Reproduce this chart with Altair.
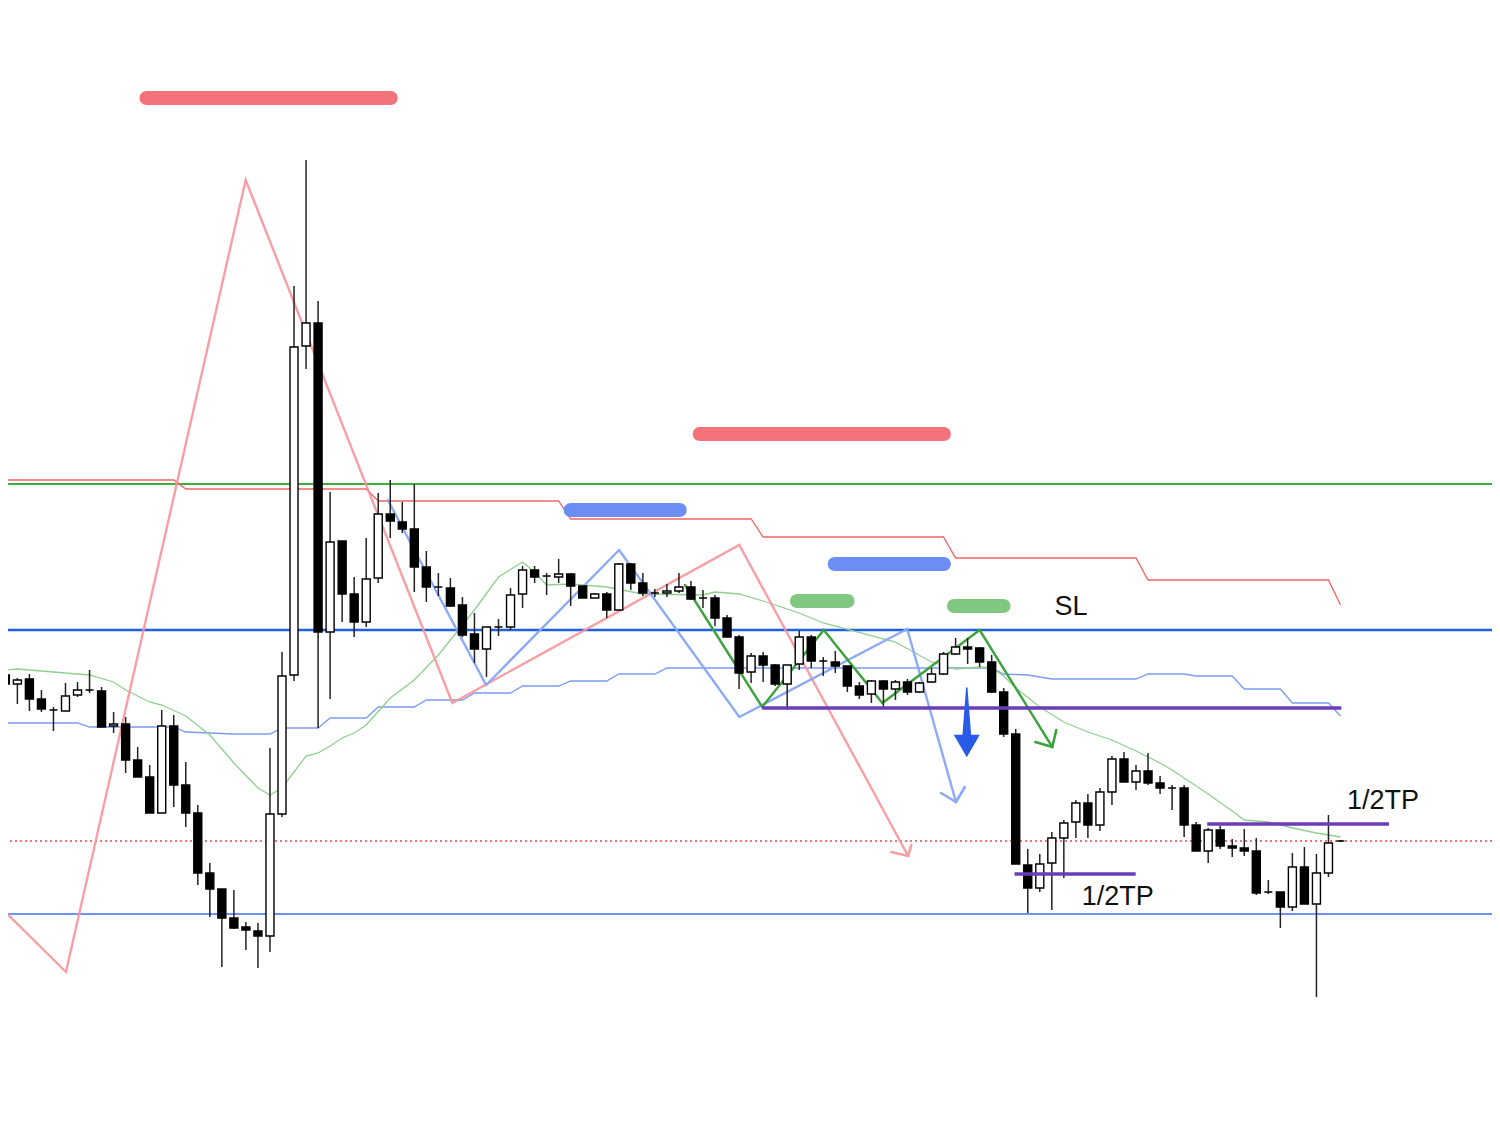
import altair as alt
import pandas as pd

# ---------------- candle data (chart level units; larger = lower price) ----
opens = [675, 684, 679, 699, 710, 711, 695, 690, 691, 726, 724, 760, 777, 813, 726, 785, 813, 873, 889, 918,
         927, 931, 936, 814, 675, 346, 323, 632, 541, 594, 622, 578, 514, 522, 529, 567, 587, 588, 605, 634,
         649, 627, 627, 594, 570, 576, 577, 574, 586, 598, 594, 610, 564, 583, 593, 593, 591, 587, 598, 598,
         618, 637, 672, 656, 665, 684, 664, 637, 661, 662, 666, 686, 694, 681, 689, 682, 692, 682, 674, 654,
         647, 648, 662, 692, 734, 865, 888, 863, 838, 822, 803, 825, 792, 759, 782, 771, 783, 788, 788, 825,
         851, 830, 846, 848, 851, 892, 892, 907, 867, 904, 873, 841]
highs = [672, 678, 674, 690, 707, 683, 682, 670, 687, 712, 717, 747, 765, 710, 715, 762, 805, 863, 889, 890,
         922, 923, 748, 652, 286, 160, 301, 492, 541, 577, 538, 493, 480, 502, 484, 551, 573, 578, 597, 613,
         627, 619, 588, 566, 566, 573, 559, 573, 586, 593, 592, 563, 563, 573, 589, 584, 573, 581, 590, 595,
         615, 635, 653, 652, 664, 665, 631, 635, 657, 651, 666, 682, 680, 680, 680, 679, 682, 668, 652, 638,
         638, 647, 655, 688, 729, 849, 854, 832, 820, 800, 794, 788, 756, 752, 765, 753, 776, 785, 785, 822,
         828, 826, 839, 829, 838, 880, 892, 853, 847, 854, 815, 840]
lows = [686, 704, 711, 712, 731, 711, 697, 693, 727, 733, 773, 777, 813, 813, 807, 827, 885, 917, 967, 929,
        950, 968, 952, 817, 681, 369, 728, 699, 622, 637, 627, 583, 538, 533, 592, 602, 596, 607, 637, 663,
        677, 636, 630, 608, 583, 595, 583, 606, 598, 598, 618, 610, 590, 596, 597, 597, 593, 600, 608, 626,
        637, 689, 683, 682, 686, 710, 670, 668, 676, 673, 692, 699, 703, 707, 700, 695, 693, 683, 675, 655,
        664, 667, 693, 737, 864, 913, 892, 910, 878, 838, 838, 831, 805, 782, 790, 785, 794, 810, 837, 851,
        863, 849, 857, 856, 895, 894, 928, 911, 904, 997, 877, 842]
closes = [684, 680, 699, 709, 710, 696, 690, 690, 727, 724, 760, 777, 813, 726, 785, 813, 873, 889, 918, 928,
          930, 936, 814, 676, 347, 323, 632, 542, 594, 622, 579, 514, 521, 529, 567, 587, 587, 606, 635, 649,
          627, 627, 595, 570, 577, 576, 574, 586, 598, 594, 610, 564, 583, 593, 593, 591, 587, 599, 598, 618,
          637, 673, 656, 665, 684, 665, 637, 661, 661, 666, 686, 695, 681, 689, 682, 692, 683, 674, 654, 647,
          649, 662, 692, 734, 864, 888, 864, 838, 823, 803, 825, 792, 759, 782, 771, 783, 788, 788, 825, 851,
          830, 846, 848, 851, 893, 892, 907, 867, 904, 873, 843, 841]

# ---------------- indicator lines (bar index, level) ----------------
ma_idx = [0, 1, 3, 7, 9, 10, 12, 13, 15, 17, 19, 21, 22, 23, 24, 25, 26, 27, 28, 29, 30, 32, 34, 36, 38, 39,
          41, 43, 44, 45, 47, 50, 53, 58, 59, 61, 63, 66, 68, 74, 77, 79, 81, 82, 83, 84, 86, 88, 90, 92, 94,
          96, 97, 98, 100, 102, 103, 105, 107, 109, 111]
ma_val = [670, 669, 671, 675, 682, 690, 702, 705, 716, 735, 763, 788, 795, 788, 772, 756, 753, 746, 738, 733,
          725, 698, 680, 655, 625, 610, 577, 562, 572, 585, 584, 587, 594, 595, 592, 594, 601, 613, 623, 642,
          662, 669, 667, 668, 676, 688, 707, 722, 732, 740, 751, 763, 770, 778, 794, 811, 820, 822, 828, 833, 837]

lower_idx = [0, 6, 7, 14, 15, 19, 22, 23, 26, 27, 30, 31, 34, 35, 38, 39, 42, 43, 46, 47, 50, 51, 54, 55, 82,
             83, 85, 87, 94, 95, 98, 99, 102, 103, 106, 107, 110, 111]
lower_val = [723, 723, 727, 727, 732, 734, 734, 728, 728, 718, 718, 707, 707, 700, 700, 693, 693, 686, 686,
             681, 681, 674, 674, 668, 668, 674, 675, 679, 679, 674, 674, 676, 676, 689, 689, 703, 703, 716]

upper_idx = [0, 14, 15, 30, 31, 46, 47, 62, 63, 78, 79, 94, 95, 110, 111]
upper_val = [480, 480, 489, 489, 501, 501, 519, 519, 537, 537, 558, 558, 580, 580, 605]

# ---------------- drawings ----------------
red_zz_idx = [0.0, 5.04, 19.98, 37.16, 61.02, 75.06]
red_zz_val = [912, 972, 180, 703, 545, 856]
blue_zz_idx = [31.8, 39.97, 51.03, 61.02, 74.98, 79.03]
blue_zz_val = [500, 685, 550, 717, 629, 802]
green_zz_idx = [56.5, 62.92, 68.04, 72.91, 81.0, 87.04]
green_zz_val = [585, 707, 630, 703, 630, 747]

# arrow-head arms: (x1, y1, x2, y2, colour)
arrow_arms = [
    (73.66, 852, 75.06, 856, "#f7a0a4"), (75.31, 845, 75.06, 856, "#f7a0a4"),
    (77.79, 793, 79.03, 802, "#8aa9f6"), (79.77, 787, 79.03, 802, "#8aa9f6"),
    (85.63, 742, 87.04, 747, "#3da23d"), (87.37, 730, 87.04, 747, "#3da23d"),
]

# full-width horizontal levels: (level, colour, width, dash)
h_levels = [
    (484, "#3fae3f", 2.2, None),
    (630, "#1f5fe3", 2.6, None),
    (914, "#6f93f3", 2.0, None),
    (841, "#e8474c", 1.3, [2, 3]),
]

# purple take-profit segments: (x1, x2, level)
tp_segments = [(62.92, 111.07, 708), (83.9, 93.97, 874), (99.92, 115.03, 824)]

# rounded zone markers: (x1, x2, level, colour)
zones = [
    (11.73, 32.04, 98, "#f4727a"),
    (57.72, 78.03, 434, "#f4727a"),
    (46.99, 56.07, 510, "#6b8ef5"),
    (68.95, 78.03, 564, "#6b8ef5"),
    (65.81, 70.02, 601, "#80c880"),
    (78.86, 82.99, 606, "#80c880"),
]

labels = [("SL", 88.6, 607), ("1/2TP", 92.49, 897), ("1/2TP", 114.53, 801)]

big_arrow_idx = 79.93
big_arrow_top, big_arrow_shaft_end, big_arrow_head = 688, 737, 746

# ---------------- build ----------------
W, H = 1484, 1116
xs = alt.Scale(domain=[0.636, 123.18], nice=False, zero=False)
ys = alt.Scale(domain=[8, 1124], nice=False, zero=False, reverse=True)


def X(f="x"):
    return alt.X(f, type="quantitative", scale=xs, axis=None)


def Y(f="y"):
    return alt.Y(f, type="quantitative", scale=ys, axis=None)


candles = pd.DataFrame({"i": list(range(len(opens))), "o": opens, "h": highs, "l": lows, "c": closes})
candles["top"] = candles[["o", "c"]].min(axis=1)
candles["bot"] = candles[["o", "c"]].max(axis=1)
candles["dir"] = ["up" if c < o else "down" for o, c in zip(opens, closes)]

layers = []

# horizontal levels
for lvl, col, w, dash in h_levels:
    kw = dict(color=col, strokeWidth=w, clip=True)
    if dash:
        kw["strokeDash"] = dash
    layers.append(alt.Chart(pd.DataFrame({"y": [lvl]})).mark_rule(**kw).encode(y=Y()))

# indicator lines
for xi, yv, col in [(upper_idx, upper_val, "#f26464"), (lower_idx, lower_val, "#7b9cf0"),
                    (ma_idx, ma_val, "#8fd08f")]:
    df = pd.DataFrame({"x": xi, "y": yv, "k": range(len(xi))})
    layers.append(alt.Chart(df).mark_line(color=col, strokeWidth=1.3, clip=True)
                  .encode(x=X(), y=Y(), order="k:Q"))

# zigzags
for xi, yv, col, op in [(red_zz_idx, red_zz_val, "#f7959b", 0.9), (blue_zz_idx, blue_zz_val, "#86a6f7", 0.95),
                        (green_zz_idx, green_zz_val, "#3da23d", 1.0)]:
    df = pd.DataFrame({"x": xi, "y": yv, "k": range(len(xi))})
    layers.append(alt.Chart(df).mark_line(color=col, strokeWidth=2.4, opacity=op, clip=True,
                                          strokeCap="round", strokeJoin="miter")
                  .encode(x=X(), y=Y(), order="k:Q"))

arms = pd.DataFrame(arrow_arms, columns=["x", "y", "x2", "y2", "col"])
layers.append(alt.Chart(arms).mark_rule(strokeWidth=2.6, strokeCap="round", clip=True).encode(
    x=X(), y=Y(), x2="x2:Q", y2="y2:Q", color=alt.Color("col:N", scale=None)))

# candles
layers.append(alt.Chart(candles).mark_rule(color="#222222", strokeWidth=1.5, clip=True).encode(
    x=X("i"), y=Y("h"), y2="l:Q"))
layers.append(alt.Chart(candles).mark_bar(size=8, stroke="#000000", strokeWidth=1.4, clip=True).encode(
    x=X("i"), y=Y("top"), y2="bot:Q",
    fill=alt.Fill("dir:N", scale=alt.Scale(domain=["up", "down"], range=["#ffffff", "#000000"]), legend=None)))

# purple take-profit lines
tp = pd.DataFrame(tp_segments, columns=["x", "x2", "y"])
layers.append(alt.Chart(tp).mark_rule(color="#6a3db8", strokeWidth=3.6, clip=True).encode(
    x=X(), x2="x2:Q", y=Y()))

# zone markers
zn = pd.DataFrame(zones, columns=["x", "x2", "y", "col"])
layers.append(alt.Chart(zn).mark_rule(strokeWidth=14, strokeCap="round", clip=True).encode(
    x=X(), x2="x2:Q", y=Y(), color=alt.Color("col:N", scale=None)))

# big down arrow
shaft = pd.DataFrame({"x": [big_arrow_idx, big_arrow_idx], "y": [big_arrow_top, big_arrow_shaft_end],
                      "s": [1.5, 9.0]})
layers.append(alt.Chart(shaft).mark_trail(color="#2a5be6").encode(
    x=X(), y=Y(), size=alt.Size("s:Q", scale=None, legend=None)))
head = pd.DataFrame({"x": [big_arrow_idx], "y": [big_arrow_head]})
layers.append(alt.Chart(head).mark_point(shape="triangle-down", size=680, filled=True, color="#2a5be6",
                                         opacity=1).encode(x=X(), y=Y()))

# labels
lb = pd.DataFrame(labels, columns=["t", "x", "y"])
layers.append(alt.Chart(lb).mark_text(font="Liberation Sans", fontSize=27, color="#111111",
                                      align="center", baseline="middle").encode(x=X(), y=Y(), text="t:N"))

chart = alt.layer(*layers).properties(
    width=W, height=H, padding=0, autosize=alt.AutoSizeParams(type="none"), background="#ffffff"
).configure_view(stroke=None)

chart.save("out.html", embed_options={"renderer": "svg", "actions": False})
